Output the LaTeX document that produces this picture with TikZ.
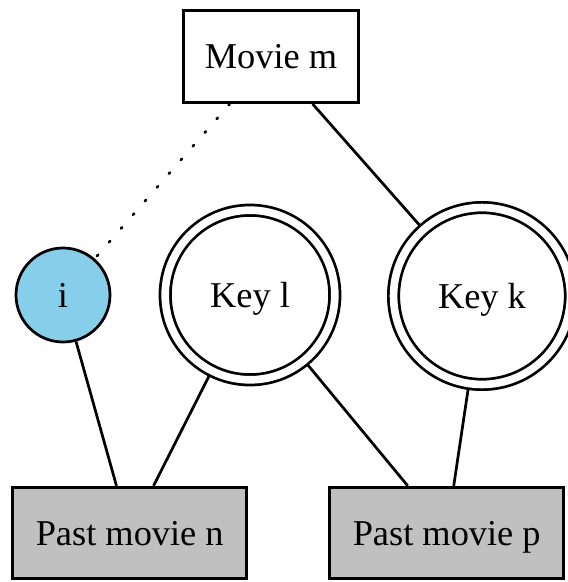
\documentclass[tikz,border=0pt]{standalone}
\usepackage{fontspec}
\setmainfont{Liberation Serif}
\usepackage{xcolor}
\usetikzlibrary{calc}

\definecolor{userblue}{HTML}{87CEEB}
\definecolor{pastgray}{HTML}{C0C0C0}

\begin{document}
\begin{tikzpicture}[x=0.385pt,y=-0.385pt,font=\fontsize{14}{16}\selectfont,line width=1.05pt,
  every node/.style={text height=9.3pt,text depth=0pt},
  film/.style={draw,rectangle,minimum width=67.5pt,minimum height=35.4pt,inner sep=0pt},
  past/.style={film,fill=pastgray,minimum width=90.2pt,minimum height=35.3pt},
  key/.style={draw,circle,double,double distance=2.95pt,inner sep=0pt,outer sep=2pt},
  user/.style={draw,circle,fill=userblue,minimum size=36.2pt,inner sep=0pt}]
\useasboundingbox (0,0) rectangle (568,582);
\node[film] (mov) at (271,56.7) {Movie m};
\node[user] (usr) at (63,295) {i};
\node[key,minimum size=65.3pt] (keyl) at (250,295) {Key l};
\node[key,minimum size=68.1pt] (keyk) at (482,296) {Key k};
\node[past] (pastn) at (129.7,533) {Past movie n};
\node[past] (pastp) at (446.7,533) {Past movie p};
% dotted guess from the movie to the user
\draw[dash pattern=on 0.6pt off 6.4pt,line cap=round] (mov)--(usr);
\draw (mov)--(keyk);
\draw (usr)--(pastn);
\draw (keyl)--(pastn);
\draw (keyl)--(pastp);
\draw (keyk)--(pastp);
\end{tikzpicture}
\end{document}
